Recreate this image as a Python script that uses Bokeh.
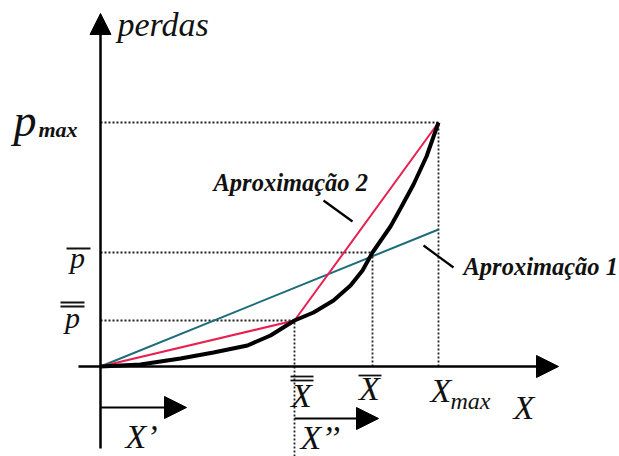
from bokeh.plotting import figure
from bokeh.models import Range1d, Arrow, NormalHead
from bokeh.core.properties import value
from bokeh.embed import file_html
from bokeh.resources import INLINE

# Key points of the loss curve (arbitrary units)
X_MAX, P_MAX = 338, 244
X_BAR, P_BAR = 272, 114
X_BB, P_BB = 194, 46

# Real loss curve (convex)
curve_x = [0, 40, 80, 113, 147, 170, 194, 213, 233, 250, 262, 272, 290, 300, 313, 326, 338]
curve_y = [0, 2, 8, 14, 21, 31, 46, 54, 66, 81, 96, 114, 140, 158, 182, 210, 244]

# Approximation 1: single straight line through (X_BAR, P_BAR)
aprox1_x = [0, X_MAX]
aprox1_y = [0, 137]

# Approximation 2: two segments through (X_BB, P_BB) up to (X_MAX, P_MAX)
aprox2_x = [0, X_BB, X_MAX]
aprox2_y = [0, P_BB, P_MAX]

SERIF = value("Times")
RED = "#e8204f"
TEAL = "#1d6d78"
DOT = "#222222"

p = figure(width=619, height=456, x_range=Range1d(-100, 519), y_range=Range1d(-90, 366),
           output_backend="svg", toolbar_location=None, min_border=0)
p.axis.visible = False
p.grid.visible = False
p.outline_line_color = None
p.background_fill_color = "white"

# dotted guides
dot = dict(line_color=DOT, line_width=1.8, line_dash="2 2")
p.segment(x0=[0, 0, 0], y0=[P_MAX, P_BAR, P_BB], x1=[X_MAX, X_BAR, X_BB], y1=[P_MAX, P_BAR, P_BB], **dot)
p.segment(x0=[X_MAX, X_BAR, X_BB], y0=[0, 0, -90], x1=[X_MAX, X_BAR, X_BB], y1=[P_MAX, P_BAR, P_BB], **dot)

# axes with arrow heads
head = lambda s: NormalHead(size=s, fill_color="black", line_color="black")
p.add_layout(Arrow(end=head(21), x_start=0, y_start=-82, x_end=0, y_end=353,
                   line_width=2.5, line_color="black"))
p.add_layout(Arrow(end=head(22), x_start=-22, y_start=0, x_end=458, y_end=0,
                   line_width=2.5, line_color="black"))
# X' and X'' direction arrows
p.add_layout(Arrow(end=head(22), x_start=0, y_start=-41, x_end=86, y_end=-41,
                   line_width=2, line_color="black"))
p.add_layout(Arrow(end=head(22), x_start=X_BB, y_start=-52, x_end=278, y_end=-52,
                   line_width=2, line_color="black"))

# curves
p.line(aprox1_x, aprox1_y, line_color=TEAL, line_width=2)
p.line(aprox2_x, aprox2_y, line_color=RED, line_width=2)
p.line(curve_x, curve_y, line_color="black", line_width=4, line_join="round")

# leader lines for approximation labels
p.segment(x0=[223, 323], y0=[166, 121], x1=[252, 353], y1=[145, 99], line_color="black", line_width=2.2)

def label(x, y, t, size, style="italic", align="left"):
    # y is the desired baseline; the text box is anchored a bit below it
    y = y + round(0.37 * size)
    p.text(x=[x], y=[y], text=[t], text_font=SERIF, text_font_size=f"{size}px",
           text_font_style=style, text_align=align, text_baseline="alphabetic", text_color="#111111")

label(17, 329, "perdas", 34)
label(-87, P_MAX - 15, "p", 46)
label(-62, P_MAX - 15, "max", 22, style="bold italic")
label(-23, P_BAR - 16, "p", 30, align="center")
label(-28, P_BB - 8, "p", 30, align="center")
label(X_BB + 7, -42, "X", 34, align="center")
label(X_BAR - 3, -35, "X", 34, align="center")
label(330, -37, "X", 34)
label(350, -43, "max", 24)
label(413, -54, "X", 34)
label(25, -83, "X\u2019", 34)
label(200, -84, "X\u2019\u2019", 34)
label(113, 175, "Aproximação 2", 24.5, style="bold italic")
label(363, 91, "Aproximação 1", 24.5, style="bold italic")

# overbars on p and X labels
bar = dict(line_color="#111111", line_width=1.8)
p.segment(x0=[-34, -40, -40, X_BB - 4, X_BB - 4, X_BAR - 14],
          y0=[P_BAR + 4, P_BB + 18, P_BB + 14, -10, -14, -9],
          x1=[-10, -16, -16, X_BB + 19, X_BB + 19, X_BAR + 9],
          y1=[P_BAR + 4, P_BB + 18, P_BB + 14, -10, -14, -9], **bar)

open("out.html", "w").write(file_html(p, INLINE))
